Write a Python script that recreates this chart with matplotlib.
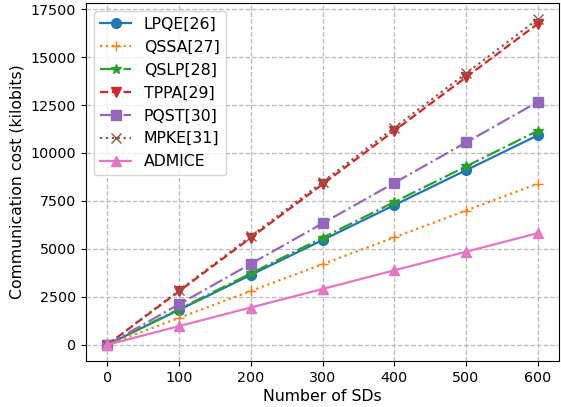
import matplotlib
matplotlib.use("Agg")
import matplotlib.pyplot as plt

sds = [0, 100, 200, 300, 400, 500, 600]
lpqe = [0, 1820, 3640, 5460, 7280, 9100, 10920]
qssa = [0, 1400, 2800, 4200, 5600, 7000, 8400]
qslp = [0, 1860, 3720, 5580, 7440, 9300, 11160]
tppa = [0, 2790, 5580, 8370, 11160, 13950, 16740]
pqst = [0, 2110, 4220, 6330, 8440, 10550, 12660]
mpke = [0, 2830, 5660, 8490, 11320, 14150, 16980]
admice = [0, 970, 1940, 2910, 3880, 4850, 5820]

series = [
    ("LPQE[26]", lpqe, "o", "-", "C0"),
    ("QSSA[27]", qssa, "+", ":", "C1"),
    ("QSLP[28]", qslp, "*", "-.", "C2"),
    ("TPPA[29]", tppa, "v", "--", "C3"),
    ("PQST[30]", pqst, "s", "-.", "C4"),
    ("MPKE[31]", mpke, "x", ":", "C5"),
    ("ADMICE", admice, "^", "-", "C6"),
]

fig, ax = plt.subplots(figsize=(5.61, 4.07), dpi=100)
fig.subplots_adjust(left=0.153, right=0.997, bottom=0.113, top=0.993)
for label, vals, marker, ls, color in series:
    ax.plot(sds, vals, marker=marker, linestyle=ls, color=color, label=label,
            markersize=7, linewidth=1.6)

ax.set_xlabel("Number of SDs", fontsize=11.3, labelpad=3)
ax.set_ylabel("Communication cost (kilobits)", fontsize=11.3)
ax.set_xticks(sds)
ax.tick_params(labelsize=10.3)
ax.grid(True, linestyle="--", color="#bbbbbb", linewidth=0.9)
ax.legend(loc="upper left", fontsize=11.3)
fig.savefig("out.png", dpi=100)
